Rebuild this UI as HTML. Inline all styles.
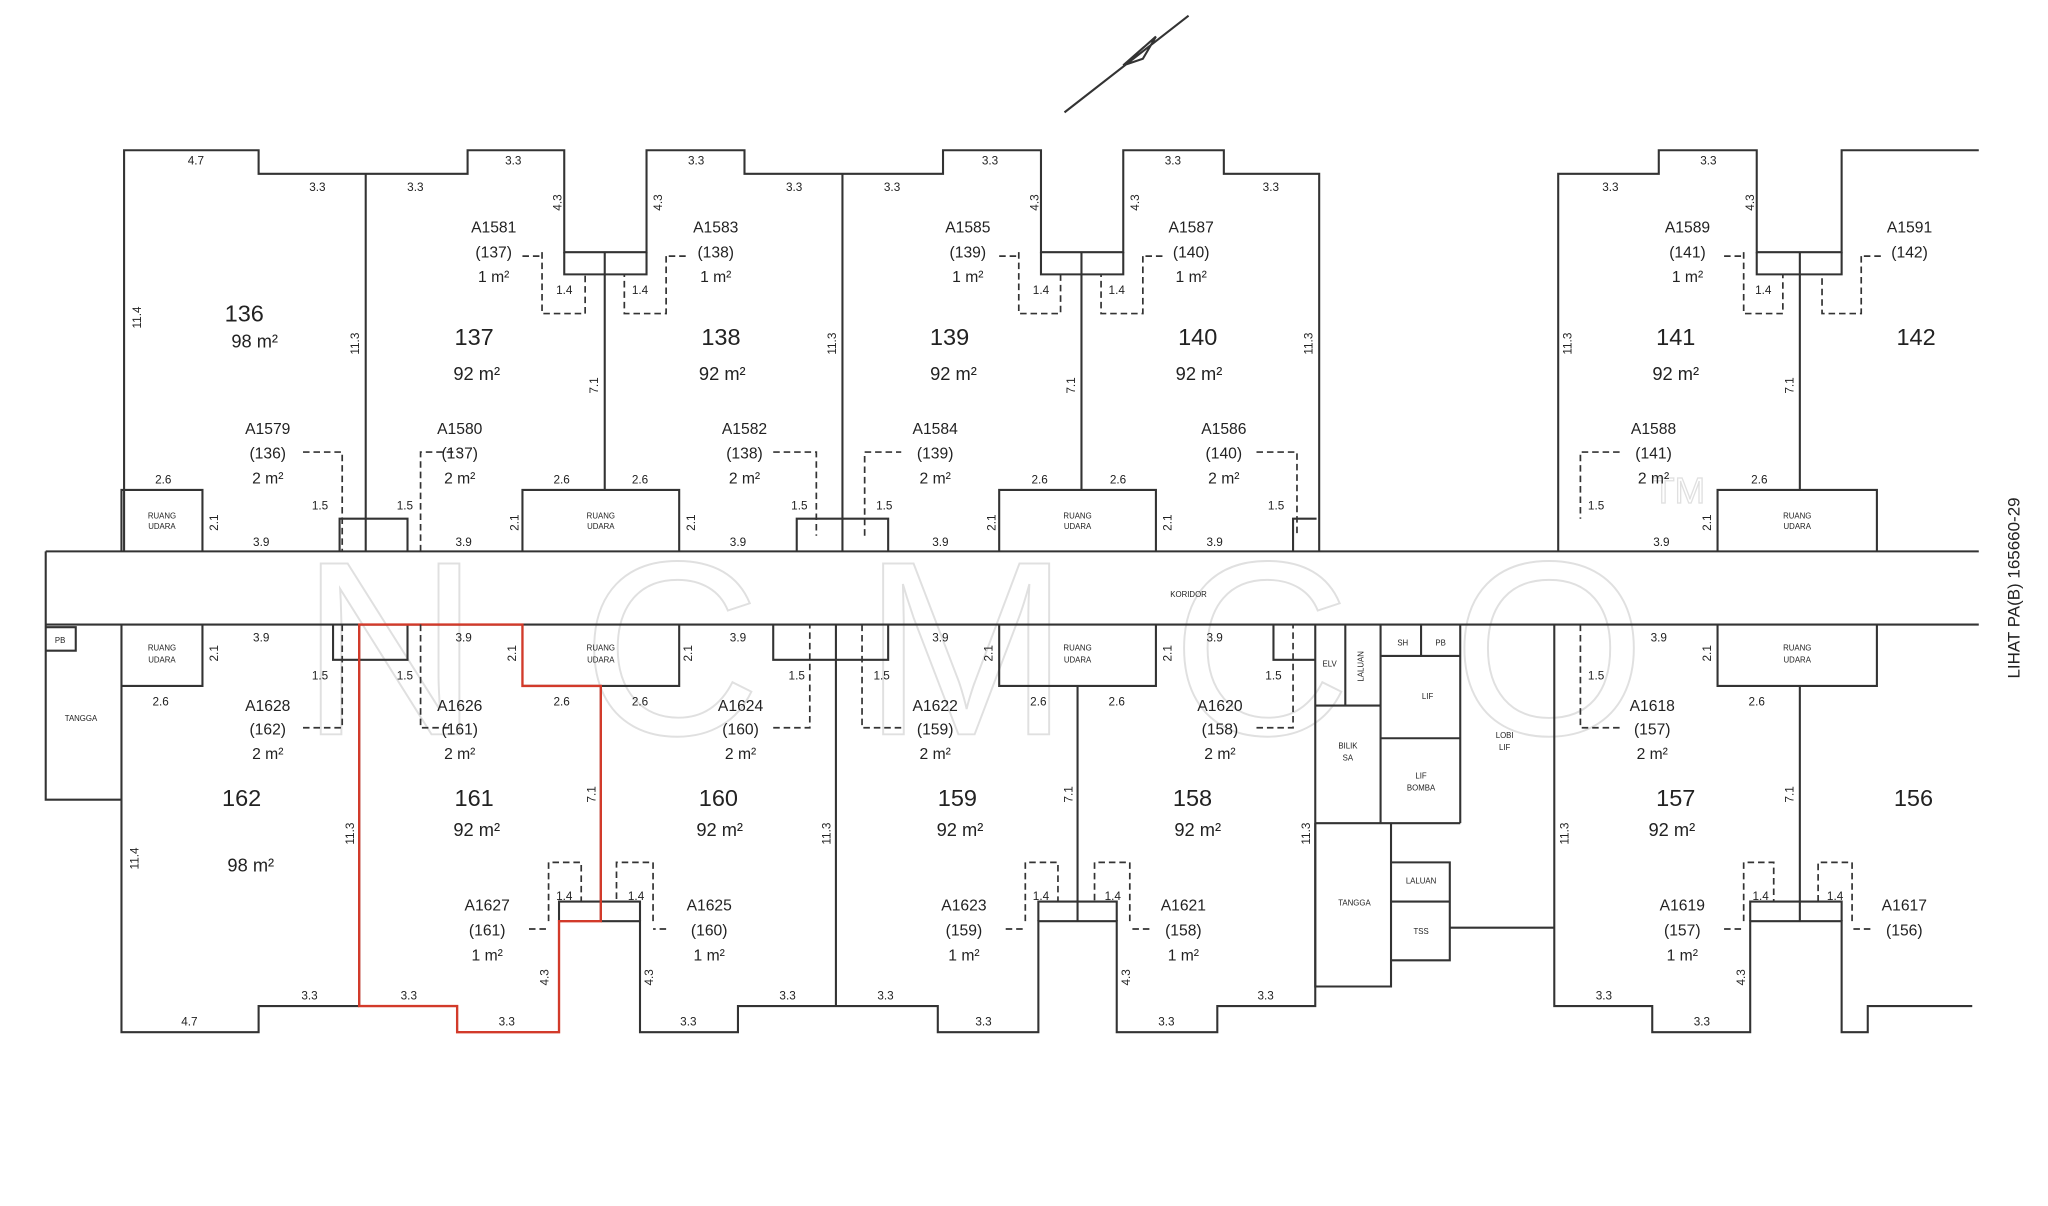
<!DOCTYPE html>
<html><head><meta charset="utf-8"><style>
html,body{margin:0;padding:0;background:#fff;width:2048px;height:1206px;overflow:hidden}
svg{display:block}
text{font-family:"Liberation Sans",sans-serif;fill:#222}
.n{font-size:18px}.a{font-size:14px}.l{font-size:12px}.d{font-size:9px}.t{font-size:6px}
</style></head><body>
<svg width="2048" height="1206" viewBox="0 0 1568 923" preserveAspectRatio="none" xmlns="http://www.w3.org/2000/svg">
<!-- watermark -->
<text x="230" y="562" font-size="190" textLength="1030" lengthAdjust="spacing" style="fill:none;stroke:#e0e0e0;stroke-width:1.5">NCMCO</text>
<text x="1265" y="385" font-size="28" style="fill:none;stroke:#e0e0e0;stroke-width:1">TM</text>
<g fill="none" stroke="#333" stroke-width="1.6">
<path d="M815 86 L910 12 M860 50 L885 28 L875 45 Z"/>
<path d="M35 422 H1515 M35 478 H1515 M35 422 V478"/>
<path d="M95 422 V115 H198 V133 H358 V115 H432 V193 H495 V115 H570 V133 H722 V115 H797 V193 H860 V115 H937 V133 H1010 V422"/>
<path d="M280 133 V422 M645 133 V422 M463 193 V375 M828 193 V375"/>
<path d="M432 193 V210 H495 V193 M797 193 V210 H860 V193"/>
<path d="M93 422 V375 H155 V422 M400 422 V375 H520 V422 M765 422 V375 H885 V422 M1315 422 V375 H1437 V422"/>
<path d="M260 422 V397 H312 V422 M610 422 V397 H680 V422 M990 422 V397 H1008"/>
<path d="M1193 422 V133 H1270 V115 H1345 V193 H1410 V115 H1515"/>
<path d="M1378 193 V375 M1345 193 V210 H1410 V193"/>
<path d="M35 478 V612 H93 M35 480 H58 V498 H35"/>
<path d="M93 478 V790 H198 V770 H275"/>
<path d="M275 770 V478"/>
<path d="M460 705 H490 V790 H565 V770 H718 V790 H795 V705 H855 V790 H932 V770 H1007 V478"/>
<path d="M640 478 V770 M825 525 V705 M460 525 V705"/>
<path d="M93 525 H155 V478 M400 525 H520 V478 M765 478 V525 H885 V478 M1315 478 V525 H1437 V478"/>
<path d="M255 478 V505 H312 V478 M592 478 V505 H680 V478 M975 478 V505 H1007"/>
<path d="M428 705 V690 H490 V705 M795 705 V690 H855 V705 M1340 705 V690 H1410 V705"/>
<path d="M1007 540 H1057 M1030 478 V540 M1057 478 V630 M1057 502 H1118 M1088 478 V502 M1118 478 V630 M1057 565 H1118 M1007 630 H1118 M1007 630 V755 H1065 V630 M1065 660 H1110 V735 H1065 M1065 690 H1110 M1110 710 H1190"/>
<path d="M1190 478 V770 H1265 V790 H1340 V705 H1410 V790 H1430 V770 H1510"/>
<path d="M1378 525 V705"/>
</g>
<path d="M275 478 H400 V525 H460 V705 H428 V790 H350 V770 H275 Z" fill="none" stroke="#d23a2a" stroke-width="1.8"/>
<g fill="none" stroke="#333" stroke-width="1.3" stroke-dasharray="5,3">
<path d="M415 193 V240 H448 V210 M400 196 H415 M510 196 V240 H478 V210 M525 196 H510"/>
<path d="M780 193 V240 H812 V210 M765 196 H780 M875 196 V240 H843 V210 M890 196 H875"/>
<path d="M1335 193 V240 H1365 V210 M1320 196 H1335 M1425 196 V240 H1395 V210 M1440 196 H1425"/>
<path d="M232 346 H262 V422 M322 422 V346 H352 M592 346 H625 V410 M662 410 V346 H690 M962 346 H993 V410 M1240 346 H1210 V397"/>
<path d="M232 557 H262 V478 M322 478 V557 H345 M592 557 H620 V478 M660 478 V557 H690 M962 557 H990 V478 M1240 557 H1210 V478"/>
<path d="M420 705 V660 H445 V690 M405 711 H420 M500 705 V660 H472 V690 M510 711 H500"/>
<path d="M785 705 V660 H810 V690 M770 711 H785 M865 705 V660 H838 V690 M880 711 H865"/>
<path d="M1335 705 V660 H1358 V690 M1320 711 H1335 M1418 705 V660 H1392 V690 M1432 711 H1418"/>
</g>
<g class="n" text-anchor="middle">
<text x="187" y="246">136</text><text x="363" y="264">137</text><text x="552" y="264">138</text><text x="727" y="264">139</text><text x="917" y="264">140</text><text x="1283" y="264">141</text><text x="1467" y="264">142</text>
<text x="185" y="617">162</text><text x="363" y="617">161</text><text x="550" y="617">160</text><text x="733" y="617">159</text><text x="913" y="617">158</text><text x="1283" y="617">157</text><text x="1465" y="617">156</text>
</g>
<g class="a" text-anchor="middle">
<text x="195" y="266">98 m²</text><text x="365" y="291">92 m²</text><text x="553" y="291">92 m²</text><text x="730" y="291">92 m²</text><text x="918" y="291">92 m²</text><text x="1283" y="291">92 m²</text>
<text x="192" y="667">98 m²</text><text x="365" y="640">92 m²</text><text x="551" y="640">92 m²</text><text x="735" y="640">92 m²</text><text x="917" y="640">92 m²</text><text x="1280" y="640">92 m²</text>
</g>
<g class="l" text-anchor="middle">
<text x="378" y="178">A1581</text><text x="378" y="197">(137)</text><text x="378" y="216">1 m²</text>
<text x="548" y="178">A1583</text><text x="548" y="197">(138)</text><text x="548" y="216">1 m²</text>
<text x="741" y="178">A1585</text><text x="741" y="197">(139)</text><text x="741" y="216">1 m²</text>
<text x="912" y="178">A1587</text><text x="912" y="197">(140)</text><text x="912" y="216">1 m²</text>
<text x="1292" y="178">A1589</text><text x="1292" y="197">(141)</text><text x="1292" y="216">1 m²</text>
<text x="1462" y="178">A1591</text><text x="1462" y="197">(142)</text>
<text x="205" y="332">A1579</text><text x="205" y="351">(136)</text><text x="205" y="370">2 m²</text>
<text x="352" y="332">A1580</text><text x="352" y="351">(137)</text><text x="352" y="370">2 m²</text>
<text x="570" y="332">A1582</text><text x="570" y="351">(138)</text><text x="570" y="370">2 m²</text>
<text x="716" y="332">A1584</text><text x="716" y="351">(139)</text><text x="716" y="370">2 m²</text>
<text x="937" y="332">A1586</text><text x="937" y="351">(140)</text><text x="937" y="370">2 m²</text>
<text x="1266" y="332">A1588</text><text x="1266" y="351">(141)</text><text x="1266" y="370">2 m²</text>
<text x="205" y="544">A1628</text><text x="205" y="562">(162)</text><text x="205" y="581">2 m²</text>
<text x="352" y="544">A1626</text><text x="352" y="562">(161)</text><text x="352" y="581">2 m²</text>
<text x="567" y="544">A1624</text><text x="567" y="562">(160)</text><text x="567" y="581">2 m²</text>
<text x="716" y="544">A1622</text><text x="716" y="562">(159)</text><text x="716" y="581">2 m²</text>
<text x="934" y="544">A1620</text><text x="934" y="562">(158)</text><text x="934" y="581">2 m²</text>
<text x="1265" y="544">A1618</text><text x="1265" y="562">(157)</text><text x="1265" y="581">2 m²</text>
<text x="373" y="697">A1627</text><text x="373" y="716">(161)</text><text x="373" y="735">1 m²</text>
<text x="543" y="697">A1625</text><text x="543" y="716">(160)</text><text x="543" y="735">1 m²</text>
<text x="738" y="697">A1623</text><text x="738" y="716">(159)</text><text x="738" y="735">1 m²</text>
<text x="906" y="697">A1621</text><text x="906" y="716">(158)</text><text x="906" y="735">1 m²</text>
<text x="1288" y="697">A1619</text><text x="1288" y="716">(157)</text><text x="1288" y="735">1 m²</text>
<text x="1458" y="697">A1617</text><text x="1458" y="716">(156)</text>
</g>
<g class="d" text-anchor="middle">
<text x="150" y="126">4.7</text><text x="243" y="146">3.3</text><text x="318" y="146">3.3</text><text x="393" y="126">3.3</text><text x="533" y="126">3.3</text><text x="608" y="146">3.3</text><text x="683" y="146">3.3</text><text x="758" y="126">3.3</text><text x="898" y="126">3.3</text><text x="973" y="146">3.3</text><text x="1233" y="146">3.3</text><text x="1308" y="126">3.3</text>
<text x="125" y="370">2.6</text><text x="430" y="370">2.6</text><text x="490" y="370">2.6</text><text x="796" y="370">2.6</text><text x="856" y="370">2.6</text><text x="1347" y="370">2.6</text>
<text x="200" y="418">3.9</text><text x="355" y="418">3.9</text><text x="565" y="418">3.9</text><text x="720" y="418">3.9</text><text x="930" y="418">3.9</text><text x="1272" y="418">3.9</text>
<text x="245" y="390">1.5</text><text x="310" y="390">1.5</text><text x="612" y="390">1.5</text><text x="677" y="390">1.5</text><text x="977" y="390">1.5</text><text x="1222" y="390">1.5</text>
<text x="200" y="491">3.9</text><text x="355" y="491">3.9</text><text x="565" y="491">3.9</text><text x="720" y="491">3.9</text><text x="930" y="491">3.9</text><text x="1270" y="491">3.9</text>
<text x="123" y="540">2.6</text><text x="430" y="540">2.6</text><text x="490" y="540">2.6</text><text x="795" y="540">2.6</text><text x="855" y="540">2.6</text><text x="1345" y="540">2.6</text>
<text x="245" y="520">1.5</text><text x="310" y="520">1.5</text><text x="610" y="520">1.5</text><text x="675" y="520">1.5</text><text x="975" y="520">1.5</text><text x="1222" y="520">1.5</text>
<text x="145" y="785">4.7</text><text x="237" y="765">3.3</text><text x="313" y="765">3.3</text><text x="388" y="785">3.3</text><text x="527" y="785">3.3</text><text x="603" y="765">3.3</text><text x="678" y="765">3.3</text><text x="753" y="785">3.3</text><text x="893" y="785">3.3</text><text x="969" y="765">3.3</text><text x="1228" y="765">3.3</text><text x="1303" y="785">3.3</text>
<text x="432" y="689">1.4</text><text x="487" y="689">1.4</text><text x="797" y="689">1.4</text><text x="852" y="689">1.4</text><text x="1348" y="689">1.4</text><text x="1405" y="689">1.4</text>
<text x="432" y="225">1.4</text><text x="490" y="225">1.4</text><text x="797" y="225">1.4</text><text x="855" y="225">1.4</text><text x="1350" y="225">1.4</text>
</g>
<g class="d" text-anchor="middle">
<text transform="translate(108,243) rotate(-90)">11.4</text><text transform="translate(275,263) rotate(-90)">11.3</text><text transform="translate(640,263) rotate(-90)">11.3</text><text transform="translate(1005,263) rotate(-90)">11.3</text><text transform="translate(1203,263) rotate(-90)">11.3</text>
<text transform="translate(458,295) rotate(-90)">7.1</text><text transform="translate(823,295) rotate(-90)">7.1</text><text transform="translate(1373,295) rotate(-90)">7.1</text>
<text transform="translate(430,155) rotate(-90)">4.3</text><text transform="translate(507,155) rotate(-90)">4.3</text><text transform="translate(795,155) rotate(-90)">4.3</text><text transform="translate(872,155) rotate(-90)">4.3</text><text transform="translate(1343,155) rotate(-90)">4.3</text>
<text transform="translate(106,657) rotate(-90)">11.4</text><text transform="translate(271,638) rotate(-90)">11.3</text><text transform="translate(636,638) rotate(-90)">11.3</text><text transform="translate(1003,638) rotate(-90)">11.3</text><text transform="translate(1201,638) rotate(-90)">11.3</text>
<text transform="translate(456,608) rotate(-90)">7.1</text><text transform="translate(821,608) rotate(-90)">7.1</text><text transform="translate(1373,608) rotate(-90)">7.1</text>
<text transform="translate(420,748) rotate(-90)">4.3</text><text transform="translate(500,748) rotate(-90)">4.3</text><text transform="translate(865,748) rotate(-90)">4.3</text><text transform="translate(1336,748) rotate(-90)">4.3</text>
<text transform="translate(167,400) rotate(-90)">2.1</text><text transform="translate(397,400) rotate(-90)">2.1</text><text transform="translate(532,400) rotate(-90)">2.1</text><text transform="translate(762,400) rotate(-90)">2.1</text><text transform="translate(897,400) rotate(-90)">2.1</text><text transform="translate(1310,400) rotate(-90)">2.1</text>
<text transform="translate(167,500) rotate(-90)">2.1</text><text transform="translate(395,500) rotate(-90)">2.1</text><text transform="translate(530,500) rotate(-90)">2.1</text><text transform="translate(760,500) rotate(-90)">2.1</text><text transform="translate(897,500) rotate(-90)">2.1</text><text transform="translate(1310,500) rotate(-90)">2.1</text>
</g>
<g class="t" text-anchor="middle">
<text x="124" y="397">RUANG</text><text x="124" y="405">UDARA</text>
<text x="460" y="397">RUANG</text><text x="460" y="405">UDARA</text>
<text x="825" y="397">RUANG</text><text x="825" y="405">UDARA</text>
<text x="1376" y="397">RUANG</text><text x="1376" y="405">UDARA</text>
<text x="124" y="498">RUANG</text><text x="124" y="507">UDARA</text>
<text x="460" y="498">RUANG</text><text x="460" y="507">UDARA</text>
<text x="825" y="498">RUANG</text><text x="825" y="507">UDARA</text>
<text x="1376" y="498">RUANG</text><text x="1376" y="507">UDARA</text>
<text x="910" y="457">KORIDOR</text><text x="62" y="552">TANGGA</text><text x="46" y="492">PB</text>
<text x="1018" y="510">ELV</text><text x="1074" y="494">SH</text><text x="1103" y="494">PB</text><text x="1093" y="535">LIF</text>
<text x="1032" y="573">BILIK</text><text x="1032" y="582">SA</text><text x="1088" y="596">LIF</text><text x="1088" y="605">BOMBA</text>
<text x="1152" y="565">LOBI</text><text x="1152" y="574">LIF</text><text x="1037" y="693">TANGGA</text><text x="1088" y="676">LALUAN</text><text x="1088" y="715">TSS</text>
<text transform="translate(1044,510) rotate(-90)">LALUAN</text>
</g>
<text transform="translate(1546,450) rotate(-90)" text-anchor="middle" style="font-size:13px">LIHAT PA(B) 165660-29</text>
</svg>
</body></html>
